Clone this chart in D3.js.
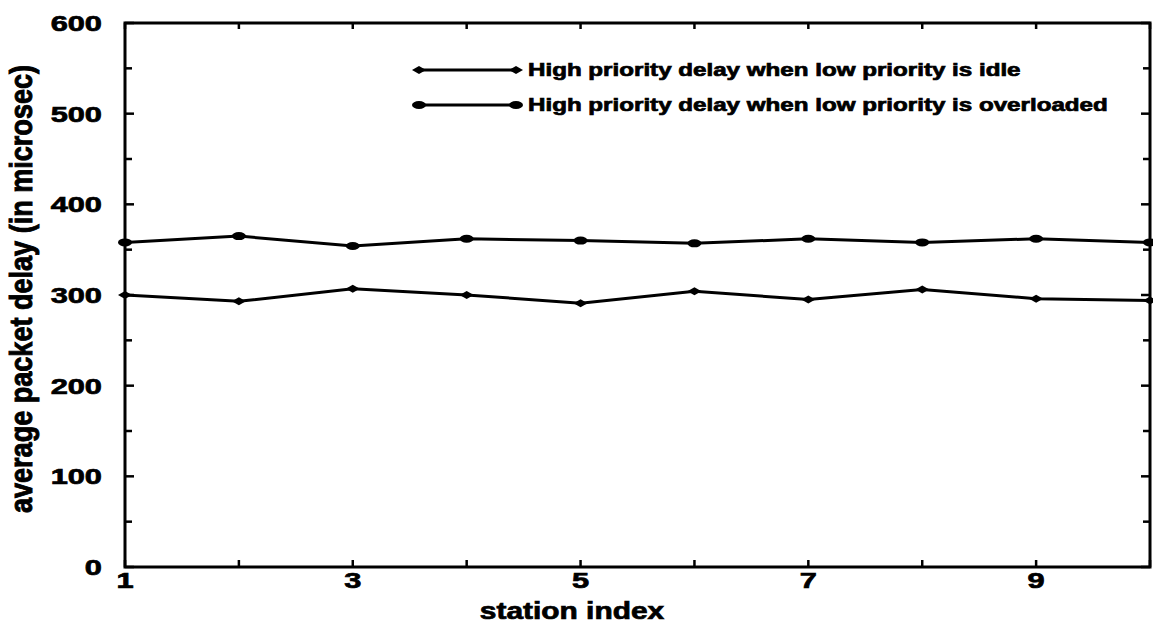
<!DOCTYPE html>
<html>
<head>
<meta charset="utf-8">
<script src="https://cdn.jsdelivr.net/npm/d3@7"></script>
<style>
  body { margin: 0; background: #fff; }
  svg { display: block; }
  text { font-family: "Liberation Sans", Arial, Helvetica, sans-serif; font-weight: bold; fill: #000; stroke: #000; stroke-width: 0.7px; }
</style>
</head>
<body>
<svg id="chart" width="1153" height="632"></svg>
<script>
const stations = [1, 2, 3, 4, 5, 6, 7, 8, 9, 10];
const idleDelay = [300, 293, 307, 300, 291, 304, 295, 306, 296, 294];
const overloadedDelay = [358, 365, 354, 362, 360, 357, 362, 358, 362, 358];
const xTickLabels = [1, 3, 5, 7, 9];
const yTickLabels = [0, 100, 200, 300, 400, 500, 600];
const seriesNames = [
  "High priority delay when low priority is idle",
  "High priority delay when low priority is overloaded"
];

const svg = d3.select("#chart");
const L = 125, R = 1150, T = 23, B = 567;
const SX = 1.4; // horizontal stretch of the original figure
const x = d3.scaleLinear().domain([1, 10]).range([L, R]);
const y = d3.scaleLinear().domain([0, 600]).range([B, T]);

// frame
svg.append("rect").attr("x", L).attr("y", T).attr("width", R - L).attr("height", B - T)
  .attr("fill", "none").attr("stroke", "#000").attr("stroke-width", 3);

// ticks (inward)
const minorY = d3.range(0, 601, 50);
const ticksG = svg.append("g").attr("stroke", "#000").attr("stroke-width", 2.5);
ticksG.selectAll(".yl").data(minorY).join("line")
  .attr("x1", L).attr("x2", d => L + (d % 100 === 0 ? 9 : 7))
  .attr("y1", d => y(d)).attr("y2", d => y(d));
ticksG.selectAll(".yr").data(minorY).join("line")
  .attr("x1", R).attr("x2", d => R - (d % 100 === 0 ? 9 : 7))
  .attr("y1", d => y(d)).attr("y2", d => y(d));
ticksG.selectAll(".xb").data(stations).join("line")
  .attr("x1", d => x(d)).attr("x2", d => x(d))
  .attr("y1", B).attr("y2", B - 7);
ticksG.selectAll(".xt").data(stations).join("line")
  .attr("x1", d => x(d)).attr("x2", d => x(d))
  .attr("y1", T).attr("y2", T + 6);

// tick labels
svg.append("g").selectAll("text").data(yTickLabels).join("text")
  .attr("transform", d => `translate(102,${y(d)}) scale(${SX},1)`)
  .attr("dy", "0.36em").attr("text-anchor", "end").attr("font-size", 22).text(d => d);

svg.append("g").selectAll("text").data(xTickLabels).join("text")
  .attr("transform", d => `translate(${x(d)},588) scale(${SX},1)`)
  .attr("text-anchor", "middle").attr("font-size", 22).text(d => d);

// axis titles
svg.append("text").attr("transform", `translate(572,619) scale(1.3,1)`)
  .attr("text-anchor", "middle").attr("font-size", 23).text("station index");

const yt = svg.append("text").attr("transform", `translate(32,289) rotate(-90) scale(1,${SX})`)
  .attr("text-anchor", "middle").attr("font-size", 23).text("average packet delay (in microsec)");
const ytw = yt.node().getComputedTextLength();
yt.attr("transform", `translate(32,289) rotate(-90) scale(${448 / ytw},${SX})`);

// lines
const line = d3.line().x((d, i) => x(stations[i])).y(d => y(d));
svg.append("path").datum(idleDelay).attr("d", line)
  .attr("fill", "none").attr("stroke", "#000").attr("stroke-width", 3);
svg.append("path").datum(overloadedDelay).attr("d", line)
  .attr("fill", "none").attr("stroke", "#000").attr("stroke-width", 3);

const diamond = (cx, cy) => `M${cx - 7},${cy} L${cx},${cy - 4} L${cx + 7},${cy} L${cx},${cy + 4} Z`;
svg.append("g").selectAll("path").data(idleDelay).join("path")
  .attr("d", (d, i) => diamond(x(stations[i]), y(d))).attr("fill", "#000");
svg.append("g").selectAll("ellipse").data(overloadedDelay).join("ellipse")
  .attr("cx", (d, i) => x(stations[i])).attr("cy", d => y(d))
  .attr("rx", 7).attr("ry", 4).attr("fill", "#000");

// legend
const legY = [70, 105];
const lg = svg.append("g");
lg.selectAll("line").data(seriesNames).join("line")
  .attr("x1", 419).attr("x2", 516).attr("y1", (d, i) => legY[i]).attr("y2", (d, i) => legY[i])
  .attr("stroke", "#000").attr("stroke-width", 3);
lg.append("path").attr("d", diamond(419, legY[0]) + diamond(516, legY[0])).attr("fill", "#000");
lg.selectAll("ellipse").data([419, 516]).join("ellipse")
  .attr("cx", d => d).attr("cy", legY[1]).attr("rx", 7).attr("ry", 4).attr("fill", "#000");
const legT = lg.selectAll("text").data(seriesNames).join("text")
  .attr("dy", "0.36em").attr("font-size", 18).text(d => d)
  .attr("transform", (d, i) => `translate(528,${legY[i]})`);
const w2 = legT.nodes()[1].getComputedTextLength();
const lsx = 580 / w2;
legT.attr("transform", (d, i) => `translate(528,${legY[i]}) scale(${lsx},1)`);
</script>
</body>
</html>
